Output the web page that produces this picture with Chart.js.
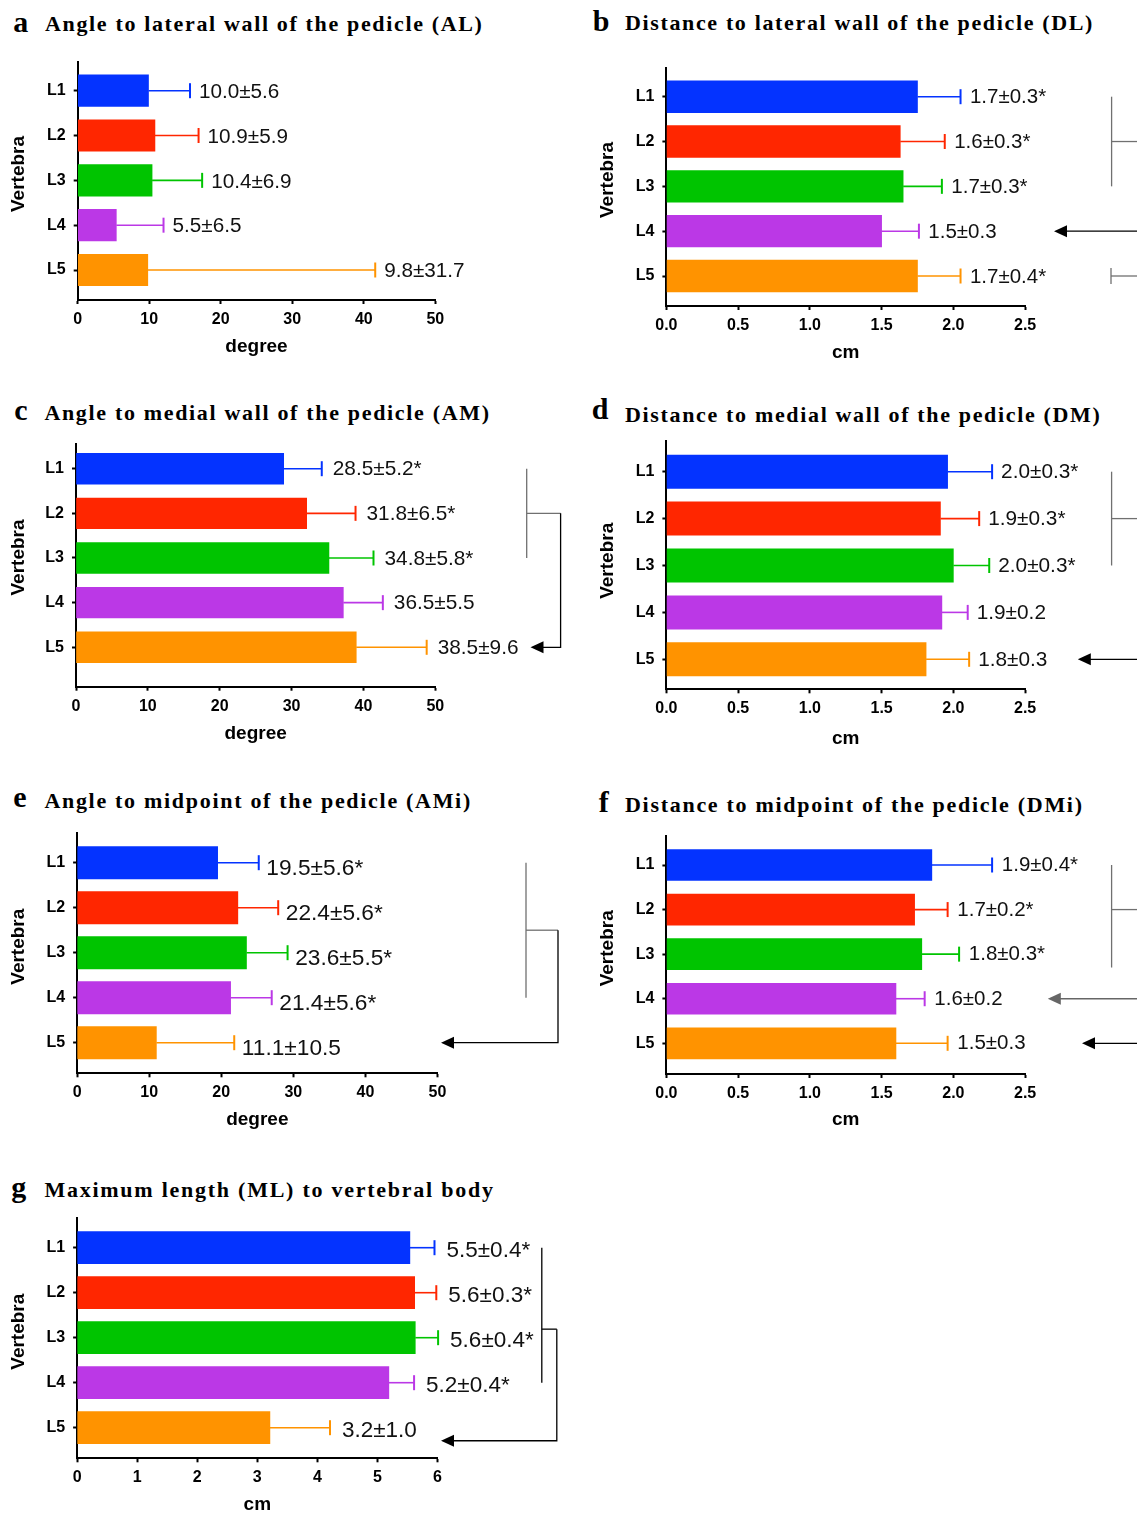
<!DOCTYPE html>
<html><head><meta charset="utf-8">
<script src="https://cdn.jsdelivr.net/npm/chart.js@4.4.1/dist/chart.umd.min.js"></script>
<style>
html,body{margin:0;padding:0;background:#fff;}
body{position:relative;width:1137px;height:1513px;overflow:hidden;}
canvas{position:absolute;}
.ttl{position:absolute;font-family:"Liberation Serif","Times New Roman",serif;font-weight:bold;line-height:1;white-space:nowrap;color:#000;}
</style>
</head><body>
<script>
// ---------- data ----------
const categories = ['L1','L2','L3','L4','L5'];
const barColors = ['#0433FF','#FF2600','#00C400','#BB38E6','#FF9300'];

const degreeTicks = [0,10,20,30,40,50];
const cmTicks = [0,0.5,1.0,1.5,2.0,2.5];
const mlTicks = [0,1,2,3,4,5,6];

// a Angle to lateral wall (AL)
const alMeans = [9.9, 10.8, 10.4, 5.4, 9.8];
const alSD    = [5.8, 6.1, 7.0, 6.6, 31.8];
const alText  = ['10.0±5.6','10.9±5.9','10.4±6.9','5.5±6.5','9.8±31.7'];
// b Distance to lateral wall (DL)
const dlMeans = [1.75, 1.63, 1.65, 1.50, 1.75];
const dlSD    = [0.30, 0.31, 0.27, 0.26, 0.30];
const dlText  = ['1.7±0.3*','1.6±0.3*','1.7±0.3*','1.5±0.3','1.7±0.4*'];
// c Angle to medial wall (AM)
const amMeans = [28.9, 32.1, 35.2, 37.2, 39.0];
const amSD    = [5.3, 6.8, 6.2, 5.5, 9.8];
const amText  = ['28.5±5.2*','31.8±6.5*','34.8±5.8*','36.5±5.5','38.5±9.6'];
// d Distance to medial wall (DM)
const dmMeans = [1.96, 1.91, 2.00, 1.92, 1.81];
const dmSD    = [0.31, 0.27, 0.25, 0.18, 0.30];
const dmText  = ['2.0±0.3*','1.9±0.3*','2.0±0.3*','1.9±0.2','1.8±0.3'];
// e Angle to midpoint (AMi)
const amiMeans = [19.5, 22.3, 23.5, 21.3, 11.0];
const amiSD    = [5.7, 5.6, 5.7, 5.7, 10.8];
const amiText  = ['19.5±5.6*','22.4±5.6*','23.6±5.5*','21.4±5.6*','11.1±10.5'];
// f Distance to midpoint (DMi)
const dmiMeans = [1.85, 1.73, 1.78, 1.60, 1.60];
const dmiSD    = [0.42, 0.23, 0.26, 0.20, 0.36];
const dmiText  = ['1.9±0.4*','1.7±0.2*','1.8±0.3*','1.6±0.2','1.5±0.3'];
// g Maximum length (ML)
const mlMeans = [5.54, 5.62, 5.63, 5.19, 3.21];
const mlSD    = [0.41, 0.36, 0.38, 0.42, 1.00];
const mlText  = ['5.5±0.4*','5.6±0.3*','5.6±0.4*','5.2±0.4*','3.2±1.0'];

const panelLetters = ['a','b','c','d','e','f','g'];
const panelTitles = [
  'Angle to lateral wall of the pedicle (AL)',
  'Distance to lateral wall of the pedicle (DL)',
  'Angle to medial wall of the pedicle (AM)',
  'Distance to medial wall of the pedicle (DM)',
  'Angle to midpoint of the pedicle (AMi)',
  'Distance to midpoint of the pedicle (DMi)',
  'Maximum length (ML) to vertebral body'
];
const yTitle = 'Vertebra';

// ---------- layout / style ----------
const SANS = '"Liberation Sans", Arial, Helvetica, sans-serif';
Chart.defaults.font.family = SANS;
const G = '#707070', K = '#000000';

const titleLayout = [
  {lx:13.3, tx:45,   base:31.7,  lbase:31.7,  w:436.7},
  {lx:592.8,tx:624.9,base:30.7,  lbase:31,    w:467.5},
  {lx:14.3, tx:44.4, base:420.7, lbase:420,   w:444.6},
  {lx:591.7,tx:625,  base:422.3, lbase:418.8, w:475},
  {lx:13.2, tx:44.4, base:808.3, lbase:807.3, w:425.9},
  {lx:598.7,tx:625,  base:812.3, lbase:812,   w:457},
  {lx:11.3, tx:44.4, base:1197.3,lbase:1197,  w:448.5}
];

const panels = [
  {means:alMeans, sd:alSD, text:alText, ticks:degreeTicks, dec:0, xTitle:'degree',
   box:{L:77.7,R:435.3,T:62,B:300,c1:90.7,c5:270,yT:18.3,yTy:174,xT:346.7,right:590}, bar:31.5,
   lab:{size:20.7, gap:9, dy:1.5}, ann:[]},
  {means:dlMeans, sd:dlSD, text:dlText, ticks:cmTicks, dec:1, xTitle:'cm',
   box:{L:666.4,R:1025.1,T:67.7,B:306,c1:96.7,c5:276,yT:607.4,yTy:180,xT:352.7,right:1137}, bar:31.7,
   lab:{size:20.5, gap:9.4, dy:1}, ann:[
     {c:G, p:[[1111.6,0],[1111.6,2]]},
     {c:G, p:[[1111.6,1],[1140,1]]},
     {c:K, arrow:true, p:[[1140,3],[1054,3]]},
     {c:G, p:[[1111,3.82],[1111,4.18]]},
     {c:G, p:[[1111,4],[1140,4]]}
   ]},
  {means:amMeans, sd:amSD, text:amText, ticks:degreeTicks, dec:0, xTitle:'degree',
   box:{L:76,R:435.3,T:444.3,B:686.7,c1:468.7,c5:647.3,yT:18.8,yTy:557.5,xT:733.3,right:590}, bar:30.7,
   lab:{size:20.8, gap:11, dy:1}, ann:[
     {c:G, p:[[526.7,0],[526.7,2]]},
     {c:G, p:[[526.7,1],[560.6,1]]},
     {c:K, arrow:true, p:[[560.6,1],[560.6,4],[530.5,4]]}
   ]},
  {means:dmMeans, sd:dmSD, text:dmText, ticks:cmTicks, dec:1, xTitle:'cm',
   box:{L:666.4,R:1025.1,T:440.7,B:689.3,c1:471.7,c5:659.3,yT:608,yTy:560.8,xT:738.3,right:1137}, bar:33.3,
   lab:{size:20.8, gap:9, dy:1}, ann:[
     {c:G, p:[[1111.6,0],[1111.6,2]]},
     {c:G, p:[[1111.6,1],[1140,1]]},
     {c:K, arrow:true, p:[[1140,4],[1077.8,4]]}
   ]},
  {means:amiMeans, sd:amiSD, text:amiText, ticks:degreeTicks, dec:0, xTitle:'degree',
   box:{L:77.1,R:437.5,T:832.7,B:1073.3,c1:862.7,c5:1042.7,yT:18.8,yTy:946.7,xT:1120,right:590}, bar:32.3,
   lab:{size:22.7, gap:7.6, dy:6.5}, ann:[
     {c:G, p:[[526,0],[526,3]]},
     {c:G, p:[[526,1.5],[558,1.5]]},
     {c:K, arrow:true, p:[[558,1.5],[558,4],[441,4]]}
   ]},
  {means:dmiMeans, sd:dmiSD, text:dmiText, ticks:cmTicks, dec:1, xTitle:'cm',
   box:{L:666.4,R:1025.1,T:835.7,B:1074,c1:865,c5:1043.3,yT:608,yTy:948.3,xT:1120,right:1137}, bar:31,
   lab:{size:20.5, gap:9.7, dy:0.5}, ann:[
     {c:G, p:[[1111.6,0],[1111.6,2.3]]},
     {c:G, p:[[1111.6,1],[1140,1]]},
     {c:'#666666', arrow:true, p:[[1140,3],[1047.8,3]]},
     {c:K, arrow:true, p:[[1140,4],[1082,4]]}
   ]},
  {means:mlMeans, sd:mlSD, text:mlText, ticks:mlTicks, dec:0, xTitle:'cm',
   box:{L:77.1,R:437.5,T:1218.3,B:1458.3,c1:1247.7,c5:1427.7,yT:18.8,yTy:1331.7,xT:1504.3,right:590}, bar:32,
   lab:{size:22.5, gap:12, dy:3}, ann:[
     {c:K, p:[[541.8,0],[541.8,3]]},
     {c:K, p:[[541.8,1.81],[556.8,1.81]]},
     {c:K, arrow:true, p:[[556.8,1.81],[556.8,4.29],[441,4.29]]}
   ]}
];

// ---------- titles (HTML text) ----------
const mctx = document.createElement('canvas').getContext('2d');
panelTitles.forEach((t, i) => {
  const L = titleLayout[i];
  const fs = 22, lfs = 30;
  mctx.font = `bold ${fs}px "Liberation Serif"`;
  const nat = mctx.measureText(t).width;
  const sp = (L.w - nat) / (t.length - 1);
  const d = document.createElement('div');
  d.className = 'ttl';
  d.textContent = t;
  d.style.fontSize = fs + 'px';
  d.style.letterSpacing = sp.toFixed(2) + 'px';
  d.style.left = L.tx + 'px';
  d.style.top = (L.base - 0.8375 * fs) + 'px';
  document.body.appendChild(d);
  const l = document.createElement('div');
  l.className = 'ttl';
  l.textContent = panelLetters[i];
  l.style.fontSize = lfs + 'px';
  l.style.left = L.lx + 'px';
  l.style.top = (L.lbase - 0.8375 * lfs) + 'px';
  document.body.appendChild(l);
});

// ---------- charts ----------
const TITLE_FS = 19, TITLE_LH = TITLE_FS * 1.2;

function makeChart(p) {
  const b = p.box;
  const cx = Math.round(b.yT - TITLE_LH / 2);
  const cy = Math.round(b.T - 22);
  const cBottom = Math.round(b.xT + TITLE_LH / 2 + 1);
  const cw = Math.round(b.right - cx), ch = cBottom - cy;
  const canvas = document.createElement('canvas');
  canvas.width = cw; canvas.height = ch;
  canvas.style.left = cx + 'px'; canvas.style.top = cy + 'px';
  canvas.style.width = cw + 'px'; canvas.style.height = ch + 'px';
  document.body.appendChild(canvas);

  const step = (b.c5 - b.c1) / (categories.length - 1);
  const yMin = -(b.c1 - b.T) / step;
  const yMax = (categories.length - 1) + (b.B - b.c5) / step;

  const gridX = {display:true, drawOnChartArea:false, drawTicks:true, tickLength:4, tickWidth:2, tickColor:'#000', offset:false};
  const gridY = {display:true, drawOnChartArea:false, drawTicks:true, tickLength:4, tickWidth:2, tickColor:'#000', offset:false};
  const border = {display:true, color:'#000', width:2};

  const extras = {
    id:'extras',
    afterDatasetsDraw(chart) {
      const ctx = chart.ctx, xs = chart.scales.x, ys = chart.scales.y;
      const meta = chart.getDatasetMeta(0);
      ctx.save();
      // y-axis title
      ctx.save();
      ctx.translate(b.yT - cx, b.yTy - cy);
      ctx.rotate(-Math.PI / 2);
      ctx.font = `bold ${TITLE_FS}px ${SANS}`;
      ctx.fillStyle = '#000';
      ctx.textAlign = 'center'; ctx.textBaseline = 'middle';
      ctx.fillText(yTitle, 0, 0);
      ctx.restore();
      meta.data.forEach((el, i) => {
        const x0 = el.x, y = el.y;
        const x1 = xs.getPixelForValue(p.means[i] + p.sd[i]);
        ctx.strokeStyle = barColors[i];
        ctx.lineWidth = 1.6;
        ctx.beginPath(); ctx.moveTo(x0, y); ctx.lineTo(x1, y); ctx.stroke();
        ctx.lineWidth = 2;
        ctx.beginPath(); ctx.moveTo(x1, y - 7.5); ctx.lineTo(x1, y + 7.5); ctx.stroke();
        ctx.fillStyle = '#111';
        ctx.font = `${p.lab.size}px ${SANS}`;
        ctx.textAlign = 'left'; ctx.textBaseline = 'middle';
        ctx.fillText(p.text[i], x1 + p.lab.gap, y + p.lab.dy);
      });
      // significance brackets / arrows
      p.ann.forEach(a => {
        const pts = a.p.map(([px, idx]) => [px - cx, ys.getPixelForValue(idx)]);
        ctx.strokeStyle = a.c; ctx.fillStyle = a.c; ctx.lineWidth = 1.3;
        const n = pts.length;
        const end = pts[n - 1];
        const prev = pts[n - 2];
        const dir = Math.sign(prev[0] - end[0]);
        const stopX = a.arrow ? end[0] + 10 * dir : end[0];
        ctx.beginPath();
        ctx.moveTo(pts[0][0], pts[0][1]);
        for (let k = 1; k < n - 1; k++) ctx.lineTo(pts[k][0], pts[k][1]);
        ctx.lineTo(stopX, end[1]);
        ctx.stroke();
        if (a.arrow) {
          ctx.beginPath();
          ctx.moveTo(end[0], end[1]);
          ctx.lineTo(end[0] + 13 * dir, end[1] - 6);
          ctx.lineTo(end[0] + 13 * dir, end[1] + 6);
          ctx.closePath(); ctx.fill();
        }
      });
      ctx.restore();
    }
  };

  new Chart(canvas, {
    type: 'bar',
    data: {
      datasets: [{
        data: categories.map((c, i) => ({x: p.means[i], y: i})),
        backgroundColor: barColors,
        borderWidth: 0,
        barThickness: p.bar
      }]
    },
    options: {
      indexAxis: 'y',
      responsive: false,
      animation: false,
      devicePixelRatio: 1,
      layout: {padding: {top: b.T - cy, right: cw - (b.R - cx), left: 0, bottom: 0}},
      plugins: {legend: {display: false}, tooltip: {enabled: false}},
      scales: {
        x: {
          type: 'linear', position: 'bottom', offset: false,
          min: p.ticks[0], max: p.ticks[p.ticks.length - 1],
          afterBuildTicks: s => { s.ticks = p.ticks.map(v => ({value: v})); },
          afterFit: s => { s.height = cBottom - b.B; },
          ticks: {callback: v => Number(v).toFixed(p.dec), color:'#000', padding:6,
                  font:{size:16, weight:'bold'}, maxRotation:0, autoSkip:false},
          grid: gridX, border: border,
          title: {display:true, text:p.xTitle, color:'#000', font:{size:TITLE_FS, weight:'bold'},
                  padding:{top:0, bottom:1}}
        },
        y: {
          type: 'linear', position: 'left', reverse: true, offset: false,
          min: yMin, max: yMax,
          afterBuildTicks: s => { s.ticks = categories.map((c, i) => ({value: i})); },
          afterFit: s => { s.width = b.L - cx; },
          ticks: {callback: v => categories[v], color:'#000', padding:8,
                  font:{size:16, weight:'bold'}, autoSkip:false},
          grid: gridY, border: border,
          title: {display:false}
        }
      }
    },
    plugins: [extras]
  });
}

panels.forEach(makeChart);
</script>
</body></html>
